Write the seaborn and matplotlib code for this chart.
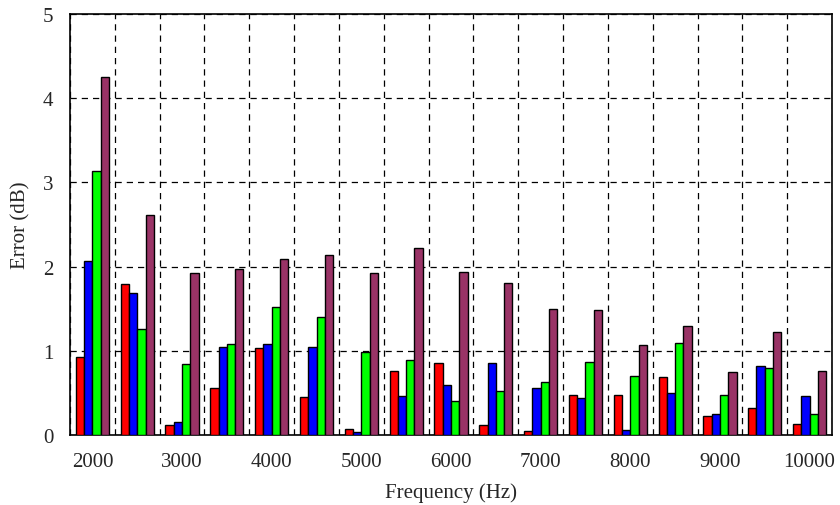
import numpy as np
import pandas as pd
import seaborn as sns
from matplotlib import pyplot as plt
from matplotlib.ticker import FixedLocator

freqs = [2000, 2500, 3000, 3500, 4000, 4500, 5000, 5500, 6000,
         6500, 7000, 7500, 8000, 8500, 9000, 9500, 10000]
red = [0.93, 1.79, 0.12, 0.56, 1.03, 0.45, 0.075, 0.76, 0.85,
       0.115, 0.045, 0.47, 0.47, 0.685, 0.22, 0.32, 0.125]
blue = [2.07, 1.69, 0.155, 1.05, 1.08, 1.05, 0.035, 0.46, 0.59,
        0.86, 0.56, 0.445, 0.065, 0.50, 0.245, 0.815, 0.465]
green = [3.13, 1.26, 0.84, 1.08, 1.52, 1.40, 0.99, 0.89, 0.40,
         0.52, 0.625, 0.87, 0.705, 1.09, 0.48, 0.79, 0.245]
maroon = [4.25, 2.61, 1.92, 1.97, 2.09, 2.14, 1.92, 2.22, 1.94,
          1.81, 1.50, 1.48, 1.07, 1.30, 0.75, 1.22, 0.76]
series_names = ['s1', 's2', 's3', 's4']
colors = ['#FF0000', '#0000FF', '#00FF00', '#993366']
tick_labels = ['2000', '3000', '4000', '5000', '6000', '7000', '8000', '9000', '10000']

df = pd.DataFrame({
    'freq': [str(f) for f in freqs] * 4,
    'err': red + blue + green + maroon,
    'series': np.repeat(series_names, len(freqs)),
})

sns.set_style('white')
plt.rcParams['font.family'] = ['Liberation Serif', 'DejaVu Serif']

fig = plt.figure(figsize=(8.4, 5.06), dpi=100)
ax = fig.add_axes([70 / 840, 1 - 436 / 506, 762 / 840, 421 / 506])

sns.barplot(data=df, x='freq', y='err', hue='series', hue_order=series_names,
            palette=colors, saturation=1, width=0.74, gap=0,
            edgecolor='black', linewidth=1, legend=False, ax=ax, zorder=3)

n = len(freqs)
ax.set_xlim(-0.5, n - 0.5)
ax.set_ylim(0, 5)
ax.set_yticks([0, 1, 2, 3, 4, 5])

# ticks on group boundaries, labels at every other group centre
ax.xaxis.set_major_locator(FixedLocator(np.arange(-0.5, n, 1.0)))
ax.xaxis.set_minor_locator(FixedLocator(np.arange(0, n, 2)))
ax.set_xticklabels([])
ax.set_xticklabels(tick_labels, minor=True)
ax.tick_params(axis='x', which='major', direction='out', length=6, width=1, color='black')
ax.tick_params(axis='x', which='minor', length=0, labelsize=15, pad=12)
ax.tick_params(axis='y', direction='inout', length=12, width=1, color='black',
               labelsize=15, pad=6)

ax.grid(True, which='major', axis='both', linestyle=(0, (5, 4)), color='black', linewidth=0.9, zorder=0)
ax.set_axisbelow(True)
for s in ax.spines.values():
    s.set_color('black')
    s.set_linewidth(1.2)

ax.set_xlabel('Frequency (Hz)', fontsize=15, labelpad=8)
ax.set_ylabel('Error (dB)', fontsize=15, labelpad=9)

fig.savefig('out.png', dpi=100)
